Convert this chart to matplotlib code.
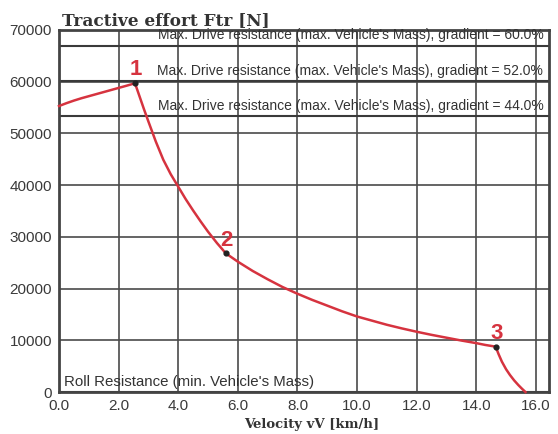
import matplotlib
matplotlib.use("Agg")
import matplotlib.pyplot as plt

# Data
velocity = [0.0, 0.25, 0.5, 0.75, 1.0, 1.25, 1.5, 1.75, 2.0, 2.25, 2.55,
            2.7, 2.85, 3.0, 3.25, 3.5, 3.75, 4.0, 4.25, 4.5, 4.75, 5.0, 5.3, 5.6,
            6.0, 6.5, 7.0, 7.5, 8.0, 8.5, 9.0, 9.5, 10.0, 10.5, 11.0, 11.5,
            12.0, 12.5, 13.0, 13.5, 14.0, 14.3, 14.65,
            14.75, 14.86, 15.0, 15.13, 15.27, 15.41, 15.53, 15.65]
effort = [55300, 55850, 56350, 56800, 57200, 57600, 58000, 58400, 58800, 59200, 59700,
          57200, 54700, 52300, 48400, 44900, 42100, 39700, 37300, 35100, 33000, 31000, 28800, 26800,
          25200, 23400, 21800, 20300, 19000, 17800, 16700, 15600, 14600, 13800, 13000, 12300,
          11650, 11050, 10500, 9950, 9450, 9100, 8770,
          7300, 5860, 4400, 3290, 2250, 1350, 650, 0]
mark_v = [2.55, 5.6, 14.65]
mark_f = [59700, 26800, 8770]
mark_labels = ["1", "2", "3"]
gradients = [60.0, 52.0, 44.0]
resist_levels = [67000, 60100, 53300]
roll_level = 0
xticks = [0, 2, 4, 6, 8, 10, 12, 14, 16]
yticks = [0, 10000, 20000, 30000, 40000, 50000, 60000, 70000]

RED = "#d6333f"
GRID = "#4a4a4a"

fig = plt.figure(figsize=(5.58, 4.34), dpi=100)
ax = fig.add_axes([59/558, 1-392/434, (549-59)/558, (392-30)/434])
ax.set_xlim(0, 16.44)
ax.set_ylim(0, 70000)
ax.set_xticks(xticks)
ax.set_xticklabels([f"{v:.1f}" for v in xticks])
ax.set_yticks(yticks)
ax.set_yticklabels([str(v) for v in yticks])
ax.tick_params(length=0, labelsize=11, labelcolor="#3a3a3a", pad=5)
for lab in ax.get_xticklabels() + ax.get_yticklabels():
    lab.set_family("Liberation Sans")
ax.grid(True, color=GRID, linewidth=1.2)
ax.set_axisbelow(True)
for s in ax.spines.values():
    s.set_color("#444444")
    s.set_linewidth(2)

for g, lvl in zip(gradients, resist_levels):
    ax.axhline(lvl, color="#3a3a3a", linewidth=1.5, zorder=2)
    ax.text(16.25, lvl + 700,
            f"Max. Drive resistance (max. Vehicle's Mass), gradient = {g:.1f}%",
            ha="right", va="bottom", fontsize=10, family="Liberation Sans",
            color="#333333", zorder=3)
ax.axhline(roll_level, color="#3a3a3a", linewidth=1.5, zorder=2)
ax.text(0.17, roll_level + 500, "Roll Resistance (min. Vehicle's Mass)",
        ha="left", va="bottom", fontsize=10.8, family="Liberation Sans",
        color="#333333", zorder=3)

ax.plot(velocity, effort, color=RED, linewidth=1.8, zorder=4, clip_on=False)
ax.scatter(mark_v, mark_f, s=12, color="#222222", zorder=5)
for v, f, t in zip(mark_v, mark_f, mark_labels):
    ax.annotate(t, (v, f), xytext=(0.5, 2), textcoords="offset points",
                ha="center", va="bottom", fontsize=16, fontweight="semibold",
                color=RED, family="Liberation Sans", zorder=6)

fig.text(62/558, 1-25/434, "Tractive effort Ftr [N]", ha="left", va="baseline",
         fontsize=12.2, fontweight="bold", family="DejaVu Serif", color="#333333")
fig.text(312/558, 1-428/434, "Velocity vV [km/h]", ha="center", va="baseline",
         fontsize=9.5, fontweight="bold", family="DejaVu Serif", color="#333333")

fig.savefig("out.png", dpi=100)
